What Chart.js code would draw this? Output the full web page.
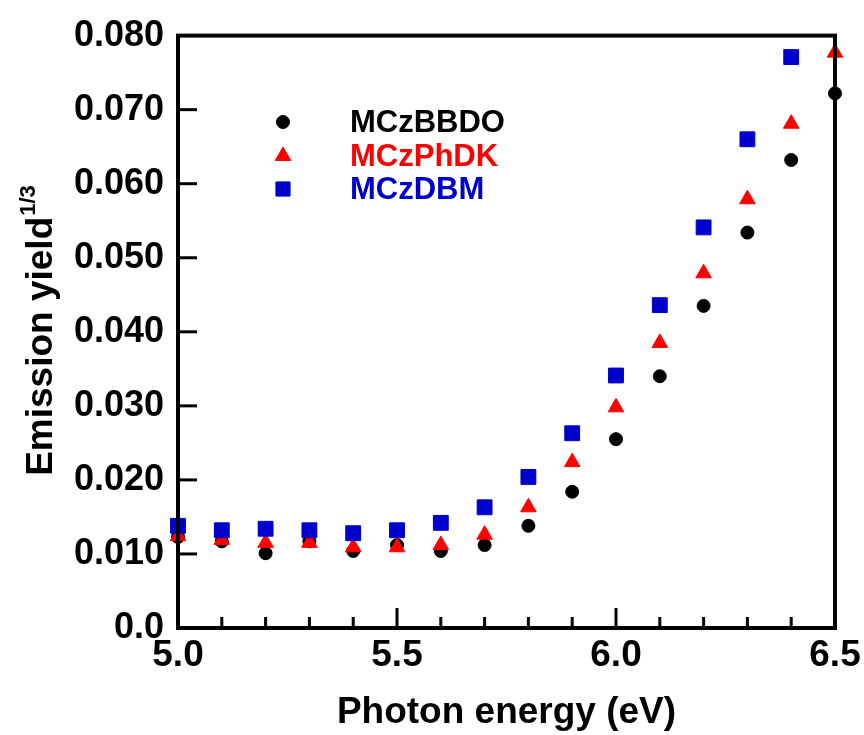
<!DOCTYPE html>
<html>
<head>
<meta charset="utf-8">
<script src="https://cdn.jsdelivr.net/npm/chart.js@4.4.1/dist/chart.umd.min.js"></script>
<style>
  html, body { margin: 0; padding: 0; background: #fff; }
  #wrap { width: 864px; height: 735px; }
</style>
</head>
<body>
<div id="wrap"><canvas id="yieldChart" width="864" height="735"></canvas></div>
<script>
const energies = [5.0, 5.1, 5.2, 5.3, 5.4, 5.5, 5.6, 5.7, 5.8, 5.9, 6.0, 6.1, 6.2, 6.3, 6.4, 6.5];
const bbdo = [0.0123, 0.0117, 0.0101, 0.0117, 0.0104, 0.0112, 0.0104, 0.0112, 0.0138, 0.0184, 0.0255, 0.0340, 0.0435, 0.0534, 0.0632, 0.0722];
const phdk = [0.0124, 0.0119, 0.0115, 0.0115, 0.0109, 0.0109, 0.0112, 0.0126, 0.0163, 0.0224, 0.0298, 0.0385, 0.0479, 0.0579, 0.0681, 0.0777];
const dbm = [0.0138, 0.0132, 0.0134, 0.0132, 0.0128, 0.0132, 0.0142, 0.0163, 0.0204, 0.0263, 0.0341, 0.0436, 0.0541, 0.0660, 0.0771];
const seriesNames = ["MCzBBDO", "MCzPhDK", "MCzDBM"];
const xTickLabels = ["5.0", "5.5", "6.0", "6.5"];
const yTickLabels = ["0.0", "0.010", "0.020", "0.030", "0.040", "0.050", "0.060", "0.070", "0.080"];

const BLUE = "#0000CC";
const RED = "#FF0000";
const FONT = "'Liberation Sans', Arial, sans-serif";

function toPoints(vals) {
    return vals.map((v, i) => ({ x: energies[i], y: v }));
}

// frame, inward ticks, legend and y title with superscript
const decorations = {
    id: 'decorations',
    afterDraw(chart) {
        const ctx = chart.ctx;
        const a = chart.chartArea;
        const xs = chart.scales.x, ys = chart.scales.y;
        ctx.save();
        ctx.strokeStyle = '#000';
        ctx.lineWidth = 4;
        ctx.lineCap = 'square';
        ctx.strokeRect(a.left, a.top, a.right - a.left, a.bottom - a.top);

        ctx.lineWidth = 3;
        ctx.lineCap = 'butt';
        // x ticks: minor every 0.1, major every 0.5
        for (let i = 1; i < 15; i++) {
            const px = xs.getPixelForValue(5 + i * 0.1);
            const len = (i % 5 === 0) ? 20 : 11;
            ctx.beginPath();
            ctx.moveTo(px, a.bottom);
            ctx.lineTo(px, a.bottom - len);
            ctx.stroke();
        }
        // y ticks
        for (let i = 1; i < 8; i++) {
            const py = ys.getPixelForValue(i * 0.01);
            ctx.beginPath();
            ctx.moveTo(a.left, py);
            ctx.lineTo(a.left + 19, py);
            ctx.stroke();
        }

        // legend
        const styles = ['circle', 'triangle', 'rect'];
        const colors = ['#000', RED, BLUE];
        const radii = [6.5, 9, 10];
        const rows = [122, 156, 189];
        ctx.font = "bold 31px " + FONT;
        ctx.textBaseline = 'middle';
        ctx.textAlign = 'left';
        for (let i = 0; i < 3; i++) {
            ctx.fillStyle = colors[i];
            ctx.strokeStyle = colors[i];
            ctx.lineWidth = 1;
            Chart.helpers.drawPoint(ctx, { pointStyle: styles[i], radius: radii[i], borderWidth: 1 }, 283, rows[i]);
            ctx.fillStyle = colors[i];
            ctx.fillText(seriesNames[i], 350, rows[i] + 1);
        }

        // y axis title with superscript
        ctx.fillStyle = '#000';
        ctx.translate(42, 331);
        ctx.rotate(-Math.PI / 2);
        const main = "Emission yield";
        ctx.font = "bold 37px " + FONT;
        const w1 = ctx.measureText(main).width;
        ctx.font = "bold 22px " + FONT;
        const w2 = ctx.measureText("1/3").width;
        const start = -(w1 + w2) / 2;
        ctx.textAlign = 'left';
        ctx.textBaseline = 'middle';
        ctx.font = "bold 37px " + FONT;
        ctx.fillText(main, start, 0);
        ctx.font = "bold 22px " + FONT;
        ctx.fillText("1/3", start + w1 + 1, -13);
        ctx.restore();
    }
};

const ctx = document.getElementById('yieldChart');

const chart = new Chart(ctx, {
    type: 'scatter',
    data: {
        datasets: [
            {
                label: seriesNames[0],
                data: toPoints(bbdo),
                pointStyle: 'circle',
                pointRadius: 6.5,
                backgroundColor: '#000',
                borderColor: '#000',
                borderWidth: 1,
                clip: false,
                order: 3
            },
            {
                label: seriesNames[1],
                data: toPoints(phdk),
                pointStyle: 'triangle',
                pointRadius: 9,
                backgroundColor: RED,
                borderColor: RED,
                borderWidth: 1,
                clip: false,
                order: 2
            },
            {
                label: seriesNames[2],
                data: toPoints(dbm),
                pointStyle: 'rect',
                pointRadius: 10.5,
                backgroundColor: BLUE,
                borderColor: BLUE,
                borderWidth: 1,
                clip: false,
                order: 1
            }
        ]
    },
    options: {
        responsive: false,
        animation: false,
        events: [],
        layout: { padding: { left: 0, right: 29, top: 35, bottom: 0 } },
        plugins: {
            legend: { display: false },
            tooltip: { enabled: false }
        },
        scales: {
            x: {
                type: 'linear',
                min: 5.0,
                max: 6.5,
                afterFit(scale) {
                    scale.height = 107;
                    scale.paddingLeft = 0;
                    scale.paddingRight = 0;
                },
                grid: { display: false, drawTicks: false },
                border: { display: false },
                ticks: {
                    stepSize: 0.5,
                    padding: 6,
                    color: '#000',
                    font: { family: FONT, size: 37, weight: 'bold' },
                    callback: (v) => {
                        const i = Math.round((v - 5.0) / 0.5);
                        return xTickLabels[i];
                    }
                },
                title: {
                    display: true,
                    text: 'Photon energy (eV)',
                    color: '#000',
                    padding: { top: 4, bottom: 0 },
                    font: { family: FONT, size: 37, weight: 'bold' }
                }
            },
            y: {
                min: 0,
                max: 0.08,
                afterFit(scale) { scale.width = 178; },
                grid: { display: false, drawTicks: false },
                border: { display: false },
                ticks: {
                    stepSize: 0.01,
                    padding: 14,
                    color: '#000',
                    font: { family: FONT, size: 36, weight: 'bold' },
                    callback: (v) => yTickLabels[Math.round(v / 0.01)]
                }
            }
        }
    },
    plugins: [decorations]
});
</script>
</body>
</html>
